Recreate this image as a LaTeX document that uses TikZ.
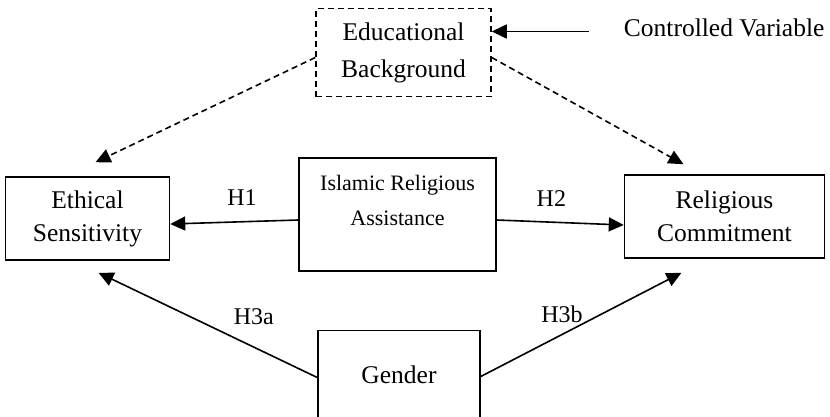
\documentclass[tikz,border=0pt]{standalone}
\usepackage{fontspec}
\setmainfont{Liberation Serif}
\usetikzlibrary{arrows.meta,positioning}

\begin{document}
\begin{tikzpicture}
	\tikzstyle{block} = [rectangle, draw, line width=1.5pt, align=center, inner sep=0pt, font=\fontsize{25.5}{33}\selectfont]
	\tikzstyle{entry} = [draw=none, inner sep=0pt, font=\fontsize{25.5}{33}\selectfont]
	\tikzstyle{hyp} = [draw=none, font=\fontsize{24}{28}\selectfont]
	\tikzstyle{arrow} = [draw, line width=1.6pt, -{Triangle[length=15pt,width=14pt]}]
	\tikzstyle{ctrl} = [arrow, dash pattern=on 6pt off 4pt]
	\useasboundingbox (0,0) rectangle (830pt,-416pt);
	\node [block, minimum width=197pt, minimum height=113pt, font=\fontsize{22}{35}\selectfont, text depth=29pt] (ira) at (397.5pt,-214.5pt) {Islamic Religious\\Assistance};
	\node [block, minimum width=164pt, minimum height=83pt, left=128pt of ira, yshift=-4pt] (es) {Ethical\\Sensitivity};
	\node [block, minimum width=200pt, minimum height=83pt, right=127pt of ira, yshift=-2pt] (rc) {Religious\\Commitment};
	\node [block, minimum width=175pt, minimum height=88pt, dash pattern=on 6pt off 4pt, font=\fontsize{25.5}{37}\selectfont, above=60pt of ira, xshift=6pt] (edu) {Educational\\Background};
	\node [block, minimum width=162pt, minimum height=89pt, below=58pt of ira, xshift=1.5pt] (gen) {Gender};
	\node [entry, text depth=7.5pt, right=132pt of edu, yshift=21pt] (cv) {Controlled Variable};

	\path[arrow, shorten <=35pt] (cv.west) -- (cv.west -| edu.east);
	\path[ctrl] ([yshift=-5pt]edu.west) -- ([xshift=8pt,yshift=14pt]es.north);
	\path[ctrl] ([yshift=-5pt]edu.east) -- ([xshift=-41pt,yshift=10pt]rc.north);
	\path[arrow] ([yshift=-5.5pt]ira.west) -- node[hyp, pos=0.44, above=12pt] (h1) {H1} ([yshift=-5.5pt]es.east);
	\path[arrow] ([yshift=-5.5pt]ira.east) -- node[hyp, pos=0.43, above=12pt] (h2) {H2} ([yshift=-8.5pt]rc.west);
	\path[arrow] ([yshift=-2.5pt]gen.west) -- node[hyp, pos=0.29, above=18pt] (h3a) {H3a} ([xshift=11pt,yshift=-12pt]es.south);
	\path[arrow] ([yshift=-1.5pt]gen.east) -- node[hyp, pos=0.405, above=8pt] (h3b) {H3b} ([xshift=-43pt,yshift=-14pt]rc.south);
\end{tikzpicture}
\end{document}
